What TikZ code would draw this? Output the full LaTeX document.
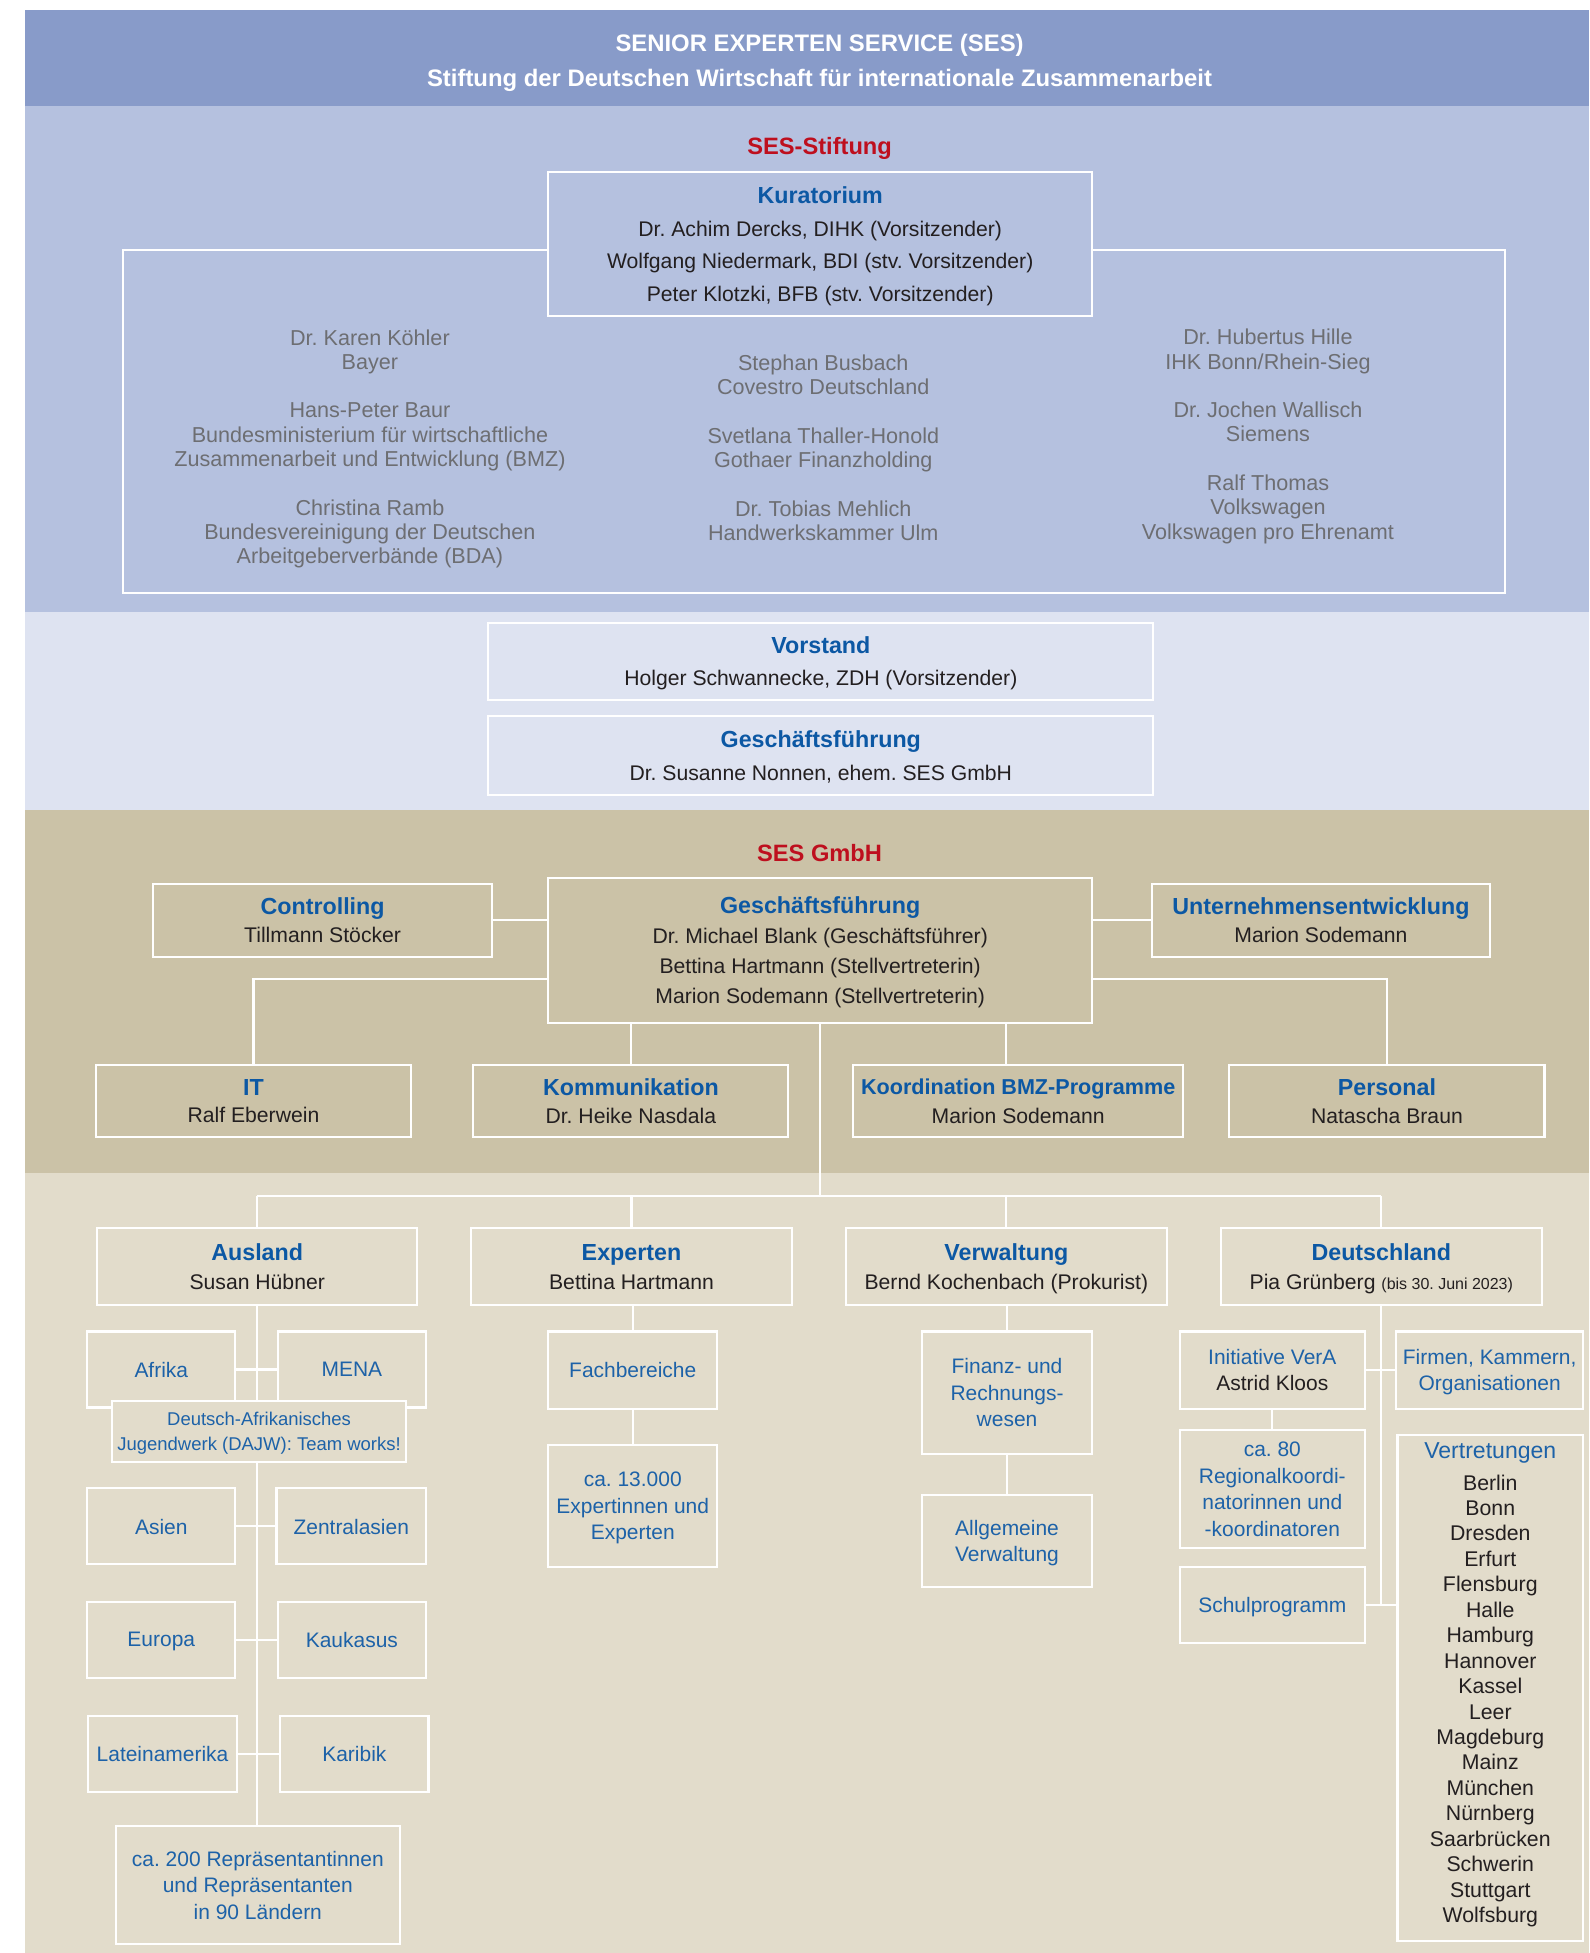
\documentclass[tikz,border=0pt]{standalone}
\usepackage{fontspec}
\setmainfont{Liberation Sans}
\frenchspacing
\definecolor{hdr}{HTML}{889BC9}
\definecolor{stift}{HTML}{B5C1DF}
\definecolor{vorst}{HTML}{DEE3F1}
\definecolor{cgmbh}{HTML}{CBC2A7}
\definecolor{low}{HTML}{E2DCCB}
\definecolor{sesblue}{HTML}{0C58A4}
\definecolor{subblue}{HTML}{1D62A8}
\definecolor{sesred}{HTML}{BE0F1E}
\definecolor{txt}{HTML}{231F20}
\definecolor{greytxt}{HTML}{6D6E72}
\pgfdeclarelayer{bands}
\pgfdeclarelayer{lines}
\pgfsetlayers{bands,lines,main}
\newcommand{\hd}[1]{{\fontsize{11.2}{13}\selectfont\bfseries\color{sesblue}#1}}
\tikzset{
	box/.style={draw=white,line width=1pt,inner sep=0pt,align=center,text=txt,text depth=0pt},
	wh/.style 2 args={minimum width=#1*0.6pt,minimum height=#2*0.6pt},
	link/.style={draw=white,line width=1pt},
	upper/.style={box,fill=stift,font=\fontsize{10.2}{15.6}\selectfont},
	board/.style={box,fill=vorst,font=\fontsize{10.2}{15.6}\selectfont},
	dept/.style={box,fill=cgmbh,font=\fontsize{10.2}{13.6}\selectfont},
	unitbox/.style={box,fill=low,font=\fontsize{10.2}{13.8}\selectfont},
	subbox/.style={box,fill=low,text=subblue,font=\fontsize{10.1}{12.8}\selectfont},
	member/.style={align=center,text=greytxt,text depth=0pt,font=\fontsize{10.4}{11.7}\selectfont},
	section/.style={text=sesred,font=\fontsize{11.4}{13}\selectfont\bfseries}
}

\begin{document}
\begin{tikzpicture}[x=0.6pt,y=-0.6pt]
		\useasboundingbox (0,0) rectangle (1276,1568);

		\begin{pgfonlayer}{bands}
		\fill[hdr] (20,8) rectangle (1276,85);
		\fill[stift] (20,85) rectangle (1276,491);
		\fill[vorst] (20,491) rectangle (1276,650);
		\fill[cgmbh] (20,650) rectangle (1276,942);
		\fill[low] (20,942) rectangle (1276,1568);
		\end{pgfonlayer}

		\node[align=center,text=white,font=\fontsize{11.5}{16.8}\selectfont\bfseries] at (658,50.5)(title){SENIOR EXPERTEN SERVICE (SES)\\Stiftung der Deutschen Wirtschaft für internationale Zusammenarbeit};

		% SES-Stiftung
		\node[section] at (658,119)(stiftung){SES-Stiftung};
		\node[upper,wh={437}{116}] at (658.5,196)(kur){\hd{Kuratorium}\\Dr. Achim Dercks, DIHK (Vorsitzender)\\Wolfgang Niedermark, BDI (stv. Vorsitzender)\\Peter Klotzki, BFB (stv. Vorsitzender)};
		\node[member] at (297,358.5)(colA){Dr. Karen Köhler\\Bayer\\[11.7pt]Hans-Peter Baur\\Bundesministerium für wirtschaftliche\\Zusammenarbeit und Entwicklung (BMZ)\\[11.7pt]Christina Ramb\\Bundesvereinigung der Deutschen\\Arbeitgeberverbände (BDA)};
		\node[member] at (661,359.5)(colB){Stephan Busbach\\Covestro Deutschland\\[11.7pt]Svetlana Thaller-Honold\\Gothaer Finanzholding\\[11.7pt]Dr. Tobias Mehlich\\Handwerkskammer Ulm};
		\node[member] at (1018,348.5)(colC){Dr. Hubertus Hille\\IHK Bonn/Rhein-Sieg\\[11.7pt]Dr. Jochen Wallisch\\Siemens\\[11.7pt]Ralf Thomas\\Volkswagen\\Volkswagen pro Ehrenamt};

		\node[board,wh={534}{62}] at (659,531)(vor){\hd{Vorstand}\\Holger Schwannecke, ZDH (Vorsitzender)};
		\node[board,wh={534}{63}] at (659,606.5)(gfs){\hd{Geschäftsführung}\\Dr. Susanne Nonnen, ehem. SES GmbH};

		% SES GmbH
		\node[section] at (658,685)(gmbh){SES GmbH};
		\node[dept,wh={437}{116},font=\fontsize{10.2}{14.4}\selectfont] at (658.5,763)(gf){\hd{Geschäftsführung}\\Dr. Michael Blank (Geschäftsführer)\\Bettina Hartmann (Stellvertreterin)\\Marion Sodemann (Stellvertreterin)};
		\node[dept,wh={272}{58}] at (259,739)(ctrl){\hd{Controlling}\\Tillmann Stöcker};
		\node[dept,wh={271}{58}] at (1060.5,739)(ue){\hd{Unternehmensentwicklung}\\Marion Sodemann};
		\node[dept,wh={253}{58},font=\fontsize{10.2}{12.6}\selectfont] at (203.5,884)(it){\hd{IT}\\Ralf Eberwein};
		\node[dept,wh={253}{58}] at (506.5,884)(kom){\hd{Kommunikation}\\Dr. Heike Nasdala};
		\node[dept,wh={265}{58}] at (817.5,884)(bmz){{\fontsize{10.4}{13}\selectfont\bfseries\color{sesblue}Koordination BMZ-Programme}\\Marion Sodemann};
		\node[dept,wh={253}{58}] at (1113.5,884)(pers){\hd{Personal}\\Natascha Braun};

		% Bereiche
		\node[unitbox,wh={257}{62}] at (206.5,1017)(aus){\hd{Ausland}\\Susan Hübner};
		\node[unitbox,wh={258}{62}] at (507,1017)(exp){\hd{Experten}\\Bettina Hartmann};
		\node[unitbox,wh={258}{62}] at (808,1017)(verw){\hd{Verwaltung}\\Bernd Kochenbach (Prokurist)};
		\node[unitbox,wh={258}{62}] at (1109,1017)(deu){\hd{Deutschland}\\Pia Grünberg {\fontsize{7.7}{9}\selectfont(bis 30. Juni 2023)}};

		% Ausland
		\node[subbox,wh={119}{61}] at (129.5,1099.5)(afr){Afrika};
		\node[subbox,wh={119}{61}] at (282.5,1099.5)(mena){MENA};
		\node[subbox,wh={236}{49},font=\fontsize{8.9}{12}\selectfont] at (208,1149.5)(dajw){Deutsch-Afrikanisches\\Jugendwerk (DAJW): Team works!};
		\node[subbox,wh={119}{61}] at (129.5,1225.5)(asi){Asien};
		\node[subbox,wh={120}{61}] at (282,1225.5)(zas){Zentralasien};
		\node[subbox,wh={119}{61}] at (129.5,1316.5)(eur){Europa};
		\node[subbox,wh={119}{61}] at (282.5,1316.5)(kau){Kaukasus};
		\node[subbox,wh={119}{61}] at (130.5,1408.5)(lat){Lateinamerika};
		\node[subbox,wh={119}{61}] at (284.5,1408.5)(kar){Karibik};
		\node[subbox,wh={228}{95}] at (207,1513.5)(rep){ca. 200 Repräsentantinnen\\und Repräsentanten\\in 90 Ländern};

		% Experten
		\node[subbox,wh={136}{62}] at (508,1100)(fach){Fachbereiche};
		\node[subbox,wh={136}{98}] at (508,1209)(pool){ca. 13.000\\Expertinnen und\\Experten};

		% Verwaltung
		\node[subbox,wh={137}{98}] at (808.5,1118)(fin){Finanz- und\\Rechnungs-\\wesen};
		\node[subbox,wh={137}{74}] at (808.5,1237)(allg){Allgemeine\\Verwaltung};

		% Deutschland
		\node[subbox,wh={149}{62}] at (1021.5,1100)(vera){Initiative VerA\\\textcolor{txt}{Astrid Kloos}};
		\node[subbox,wh={150}{62}] at (1196,1100)(firm){Firmen, Kammern,\\Organisationen};
		\node[subbox,wh={149}{95}] at (1021.5,1195.5)(reg){ca. 80\\Regionalkoordi-\\natorinnen und\\-koordinatoren};
		\node[subbox,wh={149}{61}] at (1021.5,1288.5)(schul){Schulprogramm};
		\node[subbox,wh={149}{406}] at (1196.5,1355)(vert){};
		\node[align=center,text=txt,text depth=0pt,font=\fontsize{10.25}{12.25}\selectfont] at (1196.5,1351)(cities){{\fontsize{11.1}{13}\selectfont\color{subblue}Vertretungen}\\[2.8pt]Berlin\\Bonn\\Dresden\\Erfurt\\Flensburg\\Halle\\Hamburg\\Hannover\\Kassel\\Leer\\Magdeburg\\Mainz\\München\\Nürnberg\\Saarbrücken\\Schwerin\\Stuttgart\\Wolfsburg};

		\coordinate (bar) at (658.5,960);

		\begin{pgfonlayer}{lines}
		\draw[link] (99,201) rectangle (1208,476);
		\path[link] (ctrl.east) edge (ctrl.east -| gf.west)
			(ue.west) edge (ue.west -| gf.east)
			(kom.north) edge (kom.north |- gf.south)
			(verw.north |- bmz.north) edge (verw.north |- gf.south);
		\draw[link] ([yshift=-13.8pt]gf.west) -| (it.north);
		\draw[link] ([yshift=-13.8pt]gf.east) -| (pers.north);
		\draw[link] (gf.south) -- (bar);
		\draw[link] (aus.north |- bar) -- (deu.north |- bar);
		\foreach \n in {aus,exp,verw,deu}
			\draw[link] (\n.north) -- (\n.north |- bar);
		% Ausland
		\draw[link] (aus.south) -- (aus.south |- rep.north);
		\path[link] (afr) edge (mena) (asi) edge (zas) (eur) edge (kau) (lat) edge (kar);
		% Experten, Verwaltung
		\path[link] (fach.north) edge (fach.north |- exp.south) (fach) edge (pool);
		\path[link] (fin.north) edge (fin.north |- verw.south) (fin) edge (allg);
		% Deutschland
		\draw[link] (deu.south) -- (deu.south |- schul);
		\path[link] (vera) edge (firm) (vera) edge (reg) (schul.east) edge (schul.east -| vert.west);
		\end{pgfonlayer}
	\end{tikzpicture}
\end{document}
